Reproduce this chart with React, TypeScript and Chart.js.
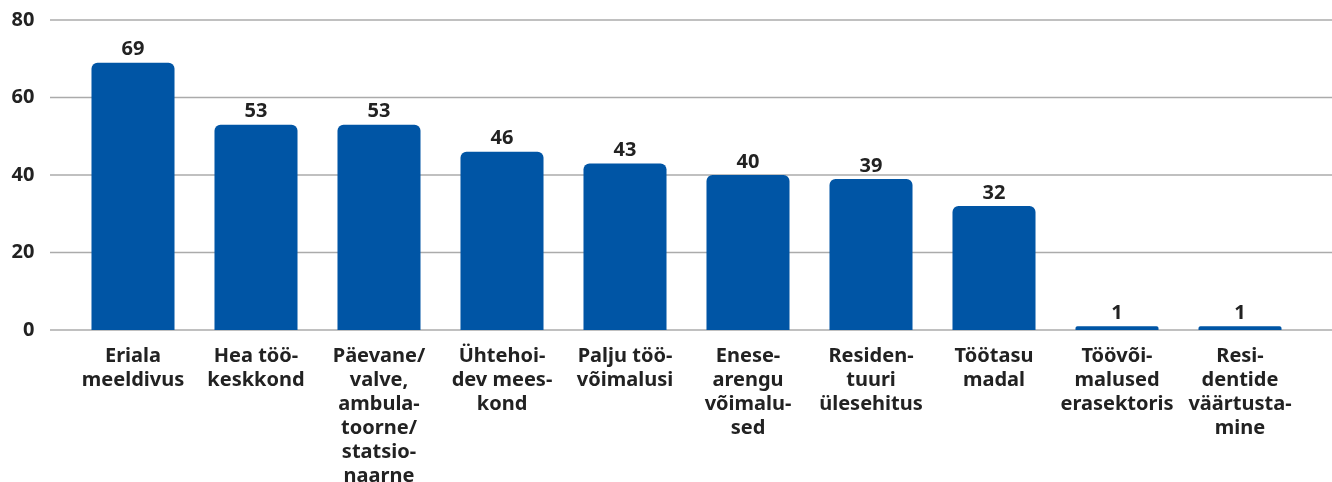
import React, { useEffect, useRef } from "react";
import { Chart, registerables } from "chart.js";

Chart.register(...registerables);

const categories: string[][] = [
  ["Eriala", "meeldivus"],
  ["Hea töö-", "keskkond"],
  ["Päevane/", "valve,", "ambula-", "toorne/", "statsio-", "naarne"],
  ["Ühtehoi-", "dev mees-", "kond"],
  ["Palju töö-", "võimalusi"],
  ["Enese-", "arengu", "võimalu-", "sed"],
  ["Residen-", "tuuri", "ülesehitus"],
  ["Töötasu", "madal"],
  ["Töövõi-", "malused", "erasektoris"],
  ["Resi-", "dentide", "väärtusta-", "mine"],
];
const values: number[] = [69, 53, 53, 46, 43, 40, 39, 32, 1, 1];
const yTicks: number[] = [0, 20, 40, 60, 80];

const FONT = "'Noto Sans', 'Open Sans', sans-serif";
const TEXT = "#222222";
const BAR = "#0055a5";
const GRID = "#ababab";

const gridPlugin = {
  id: "fullGrid",
  beforeDatasetsDraw(chart: any) {
    const ctx = chart.ctx;
    const y = chart.scales.y;
    ctx.save();
    ctx.strokeStyle = GRID;
    ctx.lineWidth = 1.5;
    yTicks.forEach((v) => {
      const py = y.getPixelForValue(v);
      ctx.beginPath();
      ctx.moveTo(50, py);
      ctx.lineTo(chart.width, py);
      ctx.stroke();
    });
    ctx.restore();
  },
};

const labelPlugin = {
  id: "valueLabels",
  afterDatasetsDraw(chart: any) {
    const ctx = chart.ctx;
    const meta = chart.getDatasetMeta(0);
    ctx.save();
    ctx.fillStyle = TEXT;
    ctx.font = `bold 20px ${FONT}`;
    ctx.textAlign = "center";
    ctx.textBaseline = "middle";
    meta.data.forEach((bar: any, i: number) => {
      ctx.fillText(String(values[i]), bar.x, bar.y - 13);
    });
    ctx.restore();
  },
};

export default function App() {
  const ref = useRef<HTMLCanvasElement>(null);
  useEffect(() => {
    if (!ref.current) return;
    const chart = new Chart(ref.current, {
      type: "bar",
      data: {
        labels: categories,
        datasets: [
          {
            data: values,
            backgroundColor: BAR,
            borderRadius: { topLeft: 6, topRight: 6, bottomLeft: 0, bottomRight: 0 },
            borderSkipped: false,
            categoryPercentage: 1,
            barPercentage: 0.675,
          },
        ],
      },
      options: {
        responsive: false,
        animation: false,
        layout: { padding: { left: 0, right: 30.5, top: 20, bottom: 0 } },
        plugins: { legend: { display: false }, tooltip: { enabled: false } },
        scales: {
          x: {
            grid: { display: false },
            border: { display: false },
            ticks: {
              color: TEXT,
              padding: 6,
              maxRotation: 0,
              autoSkip: false,
              font: { family: FONT, size: 20, weight: "bold", lineHeight: 1.2 },
            },
            afterFit: (s: any) => {
              s.height = 152;
            },
          },
          y: {
            min: 0,
            max: 80,
            grid: { display: false, drawTicks: false },
            border: { display: false },
            ticks: {
              stepSize: 20,
              color: TEXT,
              padding: 37,
              font: { family: FONT, size: 20, weight: "bold" },
            },
            afterFit: (s: any) => {
              s.width = 71.5;
              s.paddingTop = 0;
              s.paddingBottom = 0;
            },
          },
        },
      },
      plugins: [gridPlugin, labelPlugin],
    });
    return () => chart.destroy();
  }, []);
  return (
    <div style={{ position: "absolute", left: 0, top: 0, width: 1332, height: 482 }}>
      <canvas ref={ref} width={1332} height={482} />
    </div>
  );
}
